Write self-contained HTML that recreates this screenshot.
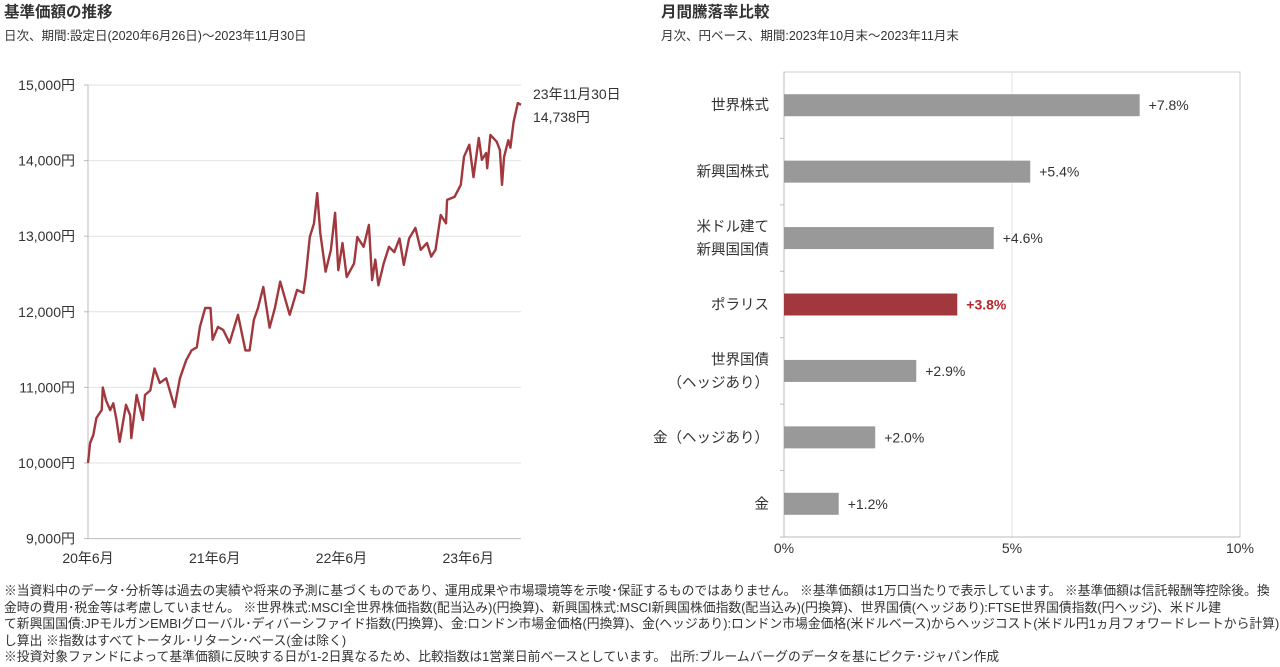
<!DOCTYPE html>
<html><head><meta charset="utf-8">
<style>
body{margin:0;width:1280px;height:667px;background:#fff;overflow:hidden;font-family:"Liberation Sans","Noto Sans CJK JP",sans-serif;color:#333;}
.t{position:absolute;white-space:nowrap;}
svg{position:absolute;left:0;top:0;}
svg text{font-family:"Liberation Sans","Noto Sans CJK JP",sans-serif;fill:#333;}
.note{position:absolute;left:4px;top:583px;width:1276px;font-size:12.8px;line-height:16.5px;color:#333;letter-spacing:0px;white-space:nowrap;}
</style></head><body>
<div class="t" style="left:4px;top:0px;font-size:15.5px;font-weight:bold;">基準価額の推移</div>
<div class="t" style="left:4px;top:25px;font-size:12.5px;">日次、期間:設定日(2020年6月26日)～2023年11月30日</div>
<div class="t" style="left:661px;top:0px;font-size:15.5px;font-weight:bold;">月間騰落率比較</div>
<div class="t" style="left:661px;top:25px;font-size:12.5px;">月次、円ベース、期間:2023年10月末～2023年11月末</div>
<svg width="1280" height="667" id="chart"></svg>
<div class="note">※当資料中のデータ･分析等は過去の実績や将来の予測に基づくものであり、運用成果や市場環境等を示唆･保証するものではありません。 ※基準価額は1万口当たりで表示しています。 ※基準価額は信託報酬等控除後。換<br>金時の費用･税金等は考慮していません。 ※世界株式:MSCI全世界株価指数(配当込み)(円換算)、新興国株式:MSCI新興国株価指数(配当込み)(円換算)、世界国債(ヘッジあり):FTSE世界国債指数(円ヘッジ)、米ドル建<br>て新興国国債:JPモルガンEMBIグローバル･ディバーシファイド指数(円換算)、金:ロンドン市場金価格(円換算)、金(ヘッジあり):ロンドン市場金価格(米ドルベース)からヘッジコスト(米ドル円1ヵ月フォワードレートから計算)を控除<br>し算出 ※指数はすべてトータル･リターン･ベース(金は除く)<br>※投資対象ファンドによって基準価額に反映する日が1-2日異なるため、比較指数は1営業日前ベースとしています。 出所:ブルームバーグのデータを基にピクテ･ジャパン作成</div>
<script>
const lineMonths=[0,0.2,0.5,0.8,1.3,1.4,1.7,2.1,2.4,2.7,3.0,3.3,3.6,4.0,4.1,4.6,5.2,5.4,5.9,6.3,6.8,7.4,8.2,8.7,9.3,9.8,10.3,10.6,11.1,11.6,11.8,12.3,12.8,13.4,14.2,14.9,15.3,15.7,16.1,16.6,17.2,17.7,18.2,19.1,19.8,20.4,20.6,21.0,21.4,21.7,22.0,22.5,23.0,23.4,23.7,24.1,24.5,25.2,25.5,26.1,26.6,26.9,27.2,27.5,28.0,28.5,29.0,29.5,29.9,30.4,31.0,31.5,32.1,32.5,32.9,33.4,33.9,34.0,34.7,35.3,35.6,36.1,36.5,37.0,37.3,37.7,37.8,38.1,38.7,39.0,39.2,39.4,39.8,40.0,40.3,40.7,41.0];
const lineValues=[10000,10265,10370,10595,10700,11000,10830,10700,10790,10570,10280,10530,10770,10630,10330,10900,10570,10900,10960,11250,11060,11120,10740,11120,11360,11490,11530,11800,12050,12050,11630,11800,11760,11590,11960,11490,11490,11890,12050,12330,11790,12050,12400,11960,12290,12250,12450,12990,13170,13570,13040,12530,12820,13310,12550,12910,12460,12640,12990,12860,13150,12420,12690,12350,12640,12860,12790,12970,12620,12970,13110,12820,12910,12730,12820,13280,13170,13480,13520,13680,14050,14210,13780,14300,14010,14100,13900,14340,14250,14140,13680,14050,14270,14170,14510,14760,14738];
const yTicks=[9000,10000,11000,12000,13000,14000,15000];
const yTickLabels=["9,000円","10,000円","11,000円","12,000円","13,000円","14,000円","15,000円"];
const xTickMonths=[0,12,24,36];
const xTickLabels=["20年6月","21年6月","22年6月","23年6月"];
const barCategories=[["世界株式"],["新興国株式"],["米ドル建て","新興国国債"],["ポラリス"],["世界国債","（ヘッジあり）"],["金（ヘッジあり）"],["金"]];
const barValues=[7.8,5.4,4.6,3.8,2.9,2.0,1.2];
const barLabels=["+7.8%","+5.4%","+4.6%","+3.8%","+2.9%","+2.0%","+1.2%"];
const barTicks=[0,5,10];
const barTickLabels=["0%","5%","10%"];
const highlightIndex=3;

const svg=document.getElementById('chart');
const NS='http://www.w3.org/2000/svg';
function mk(tag,attrs,parent){const e=document.createElementNS(NS,tag);for(const k in attrs)e.setAttribute(k,attrs[k]);(parent||svg).appendChild(e);return e;}
const lx=m=>88+m*(433/41);
const ly=v=>463-(v-10000)*0.0756;
yTicks.forEach((v,i)=>{
  if(v>9000){const g=mk('line',{x1:88,x2:521,y1:ly(v),y2:ly(v),stroke:'#e2e2e2','stroke-width':1});
  
  }
  const tk=mk('line',{x1:84,x2:88,y1:ly(v),y2:ly(v),stroke:'#bbb'});
  
  
  const t=mk('text',{x:75,y:ly(v)+5,'text-anchor':'end','font-size':14});
  t.textContent=yTickLabels[i];
  
  
});
const ya=mk('line',{x1:88,x2:88,y1:ly(15000),y2:ly(9000),stroke:'#bbb'});


const xa=mk('line',{x1:88,x2:521,y1:ly(9000),y2:ly(9000),stroke:'#bbb'});


xTickMonths.forEach((m,i)=>{
  const t=mk('text',{x:lx(m),y:563,'text-anchor':'middle','font-size':14});
  t.textContent=xTickLabels[i];
  
  
});
const pts=lineMonths.map((m,i)=>lx(m).toFixed(1)+','+ly(lineValues[i]).toFixed(1)).join(' ');
const pl=mk('polyline',{points:pts,fill:'none',stroke:'#a0383d','stroke-width':2.4,'stroke-linejoin':'round'});


const a1=mk('text',{x:533,y:99,'font-size':14});a1.textContent='23年11月30日';


const a2=mk('text',{x:533,y:122,'font-size':14});a2.textContent='14,738円';


const bx=v=>784+v*45.6;
const plotTop=72,plotBot=537,n=barValues.length,band=(plotBot-plotTop)/n;
const box=mk('rect',{x:784,y:plotTop,width:bx(10)-784,height:plotBot-plotTop,fill:'none',stroke:'#ccc'});


const g5=mk('line',{x1:bx(5),x2:bx(5),y1:plotTop,y2:plotBot,stroke:'#e6e6e6'});


const ba=mk('line',{x1:784,x2:784,y1:plotTop,y2:plotBot,stroke:'#bbb'});


const bxa=mk('line',{x1:784,x2:bx(10),y1:plotBot,y2:plotBot,stroke:'#bbb'});


for(let i=1;i<=n;i++){const tk=mk('line',{x1:780,x2:784,y1:plotTop+band*i,y2:plotTop+band*i,stroke:'#bbb'});

}
barTicks.forEach((v,i)=>{
  const t=mk('text',{x:bx(v),y:553,'text-anchor':'middle','font-size':14});
  t.textContent=barTickLabels[i];
  
  
});
barValues.forEach((v,i)=>{
  const cy=plotTop+band*(i+0.5);
  const hl=i===highlightIndex;
  const r=mk('rect',{x:784,y:cy-11,width:bx(v)-784,height:22,fill:hl?'#a0383d':'#999'});
  
  
  const t=mk('text',{x:bx(v)+9,y:cy+5,'font-size':14,'font-weight':hl?'bold':'normal'});
  t.textContent=barLabels[i];
  if(hl)t.setAttribute('style','fill:#b2262c');
  
  
  const lines=barCategories[i];
  lines.forEach((s,j)=>{
    const c=mk('text',{x:769,y:cy+5+(j-(lines.length-1)/2)*23,'text-anchor':'end','font-size':14.5});
    c.textContent=s;
    
    
  });
});
</script>
</body></html>
